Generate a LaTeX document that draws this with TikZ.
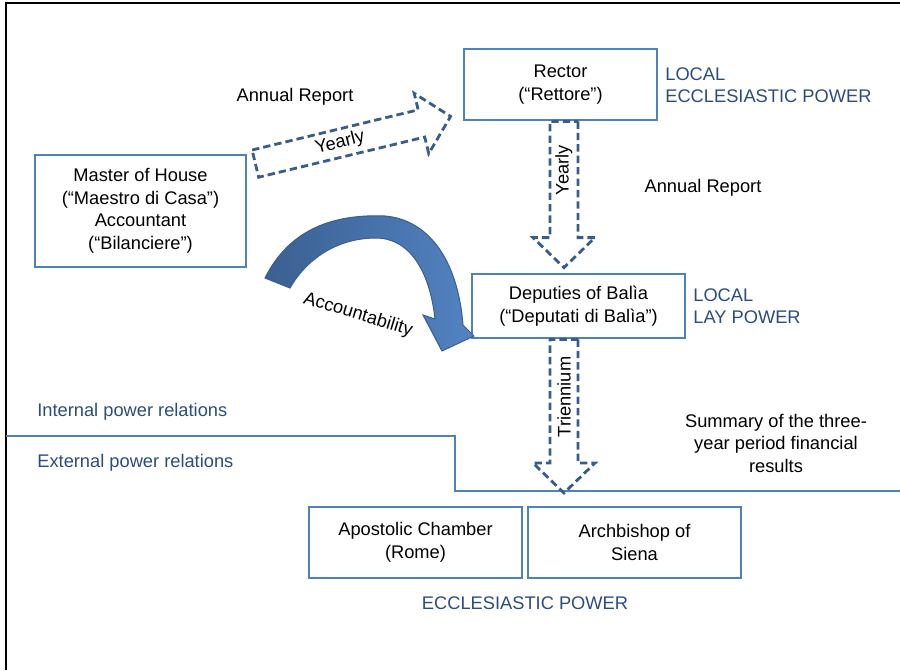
\documentclass[tikz,border=0pt]{standalone}
\usepackage{fontspec}
\setmainfont{Liberation Sans}
\usetikzlibrary{calc}
\definecolor{boxblue}{HTML}{4F81BD}
\definecolor{arrowblue}{HTML}{385D8A}
\definecolor{labelblue}{HTML}{2B4C7E}
\definecolor{curvedark}{HTML}{3B5F91}
\definecolor{curvelight}{HTML}{5283C2}
\tikzset{
  unit/.style={draw=boxblue, line width=1.6pt, align=center, inner sep=0pt},
  flow/.style={draw=arrowblue, line width=1.6pt, dash pattern=on 4.2pt off 2.3pt, line join=miter},
  power/.style={text=labelblue, align=left, anchor=west, inner sep=0pt}
}
\newcommand\flowarrow[2]{%
  \coordinate (hb) at ($(#2)!0.6cm!(#1)$);
  \draw[flow] ($(#1)!0.28cm!90:(#2)$) -- ($(hb)!0.28cm!90:(#2)$) -- ($(hb)!0.62cm!90:(#2)$) -- (#2)
    -- ($(hb)!0.62cm!-90:(#2)$) -- ($(hb)!0.28cm!-90:(#2)$) -- ($(#1)!0.28cm!-90:(#2)$) -- cycle;}

\begin{document}
\begin{tikzpicture}
        [x=0.02cm, y=-0.02cm, font=\fontsize{10.4}{12.8}\selectfont]
        \useasboundingbox (0,0) rectangle (900,670);
        \draw[line width=1pt] (6,670) -- (6,3) -- (900,3);

        \node[unit, minimum width=4.22cm, minimum height=2.24cm] (master) at (140.5,211)
            {Master of House\\(“Maestro di Casa”)\\Accountant\\(“Bilanciere”)};
        \node[unit, minimum width=3.86cm, minimum height=1.42cm] (rector) at (560.5,84.5)
            {Rector\\(“Rettore”)};
        \node[unit, minimum width=4.26cm, minimum height=1.28cm] (deputies) at (578.5,306)
            {Deputies of Balìa\\(“Deputati di Balìa”)};
        \node[unit, minimum width=4.26cm, minimum height=1.42cm] (chamber) at (415.5,542.5)
            {Apostolic Chamber\\(Rome)};
        \node[unit, minimum width=4.26cm, minimum height=1.42cm] (archbishop) at (634.5,542.5)
            {Archbishop of\\Siena};

        \node[power] (eccl) at (665,85) {LOCAL\\ECCLESIASTIC POWER};
        \node[power] (lay) at (693,306) {LOCAL\\LAY POWER};
        \node[power] (internal) at (37,412) {Internal power relations};
        \node[power] (external) at (37,463) {External power relations};
        \node[text=labelblue] (church) at (525,603) {ECCLESIASTIC POWER};
        \node (report1) at (295,97) {Annual Report};
        \node (report2) at (703,188) {Annual Report};
        \node[align=center] (summary) at (776,443) {Summary of the three-\\year period financial\\results};

        \coordinate (lineL) at (6,436);
        \coordinate (lineM1) at (455,436);
        \coordinate (lineM2) at (455,491);
        \coordinate (lineR) at (900,491);
        \draw[boxblue, line width=0.8pt] (lineL) -- (lineM1) -- (lineM2) -- (lineR);

        \coordinate (axis) at (564,0);
        \coordinate (y1) at ($(master.north east)+(8,10)$);
        \coordinate (y2) at ($(rector.south west)+(-12,-5)$);
        \coordinate (y3) at (rector.south -| axis);
        \coordinate (y4) at ($(deputies.north -| axis)+(0,-5)$);
        \coordinate (t1) at (deputies.south -| axis);
        \coordinate (t2) at ($(lineR -| axis)+(0,2)$);
        \foreach \from/\to in {y1/y2,y3/y4,t1/t2}
        \flowarrow{\from}{\to};

        \node[rotate=14] (yearly1) at (340,143) {Yearly};
        \node[rotate=90] (yearly2) at (564,170) {Yearly};
        \node[rotate=90] (triennium) at (564,397) {Triennium};

        \shadedraw[draw=curvedark, left color=curvedark, right color=curvelight, line width=0.6pt]
            (265,278) .. controls (290,228) and (335,214) .. (385,216)
            .. controls (430,220) and (458,262) .. (463,325)
            -- (474,336) -- (442,351) -- (423,315) -- (435,319)
            .. controls (430,272) and (410,238) .. (376,238)
            .. controls (336,238) and (306,260) .. (290,288) -- cycle;
        \node[rotate=-17, inner sep=1pt] (account) at (358,315) {Accountability};
    \end{tikzpicture}
\end{document}
